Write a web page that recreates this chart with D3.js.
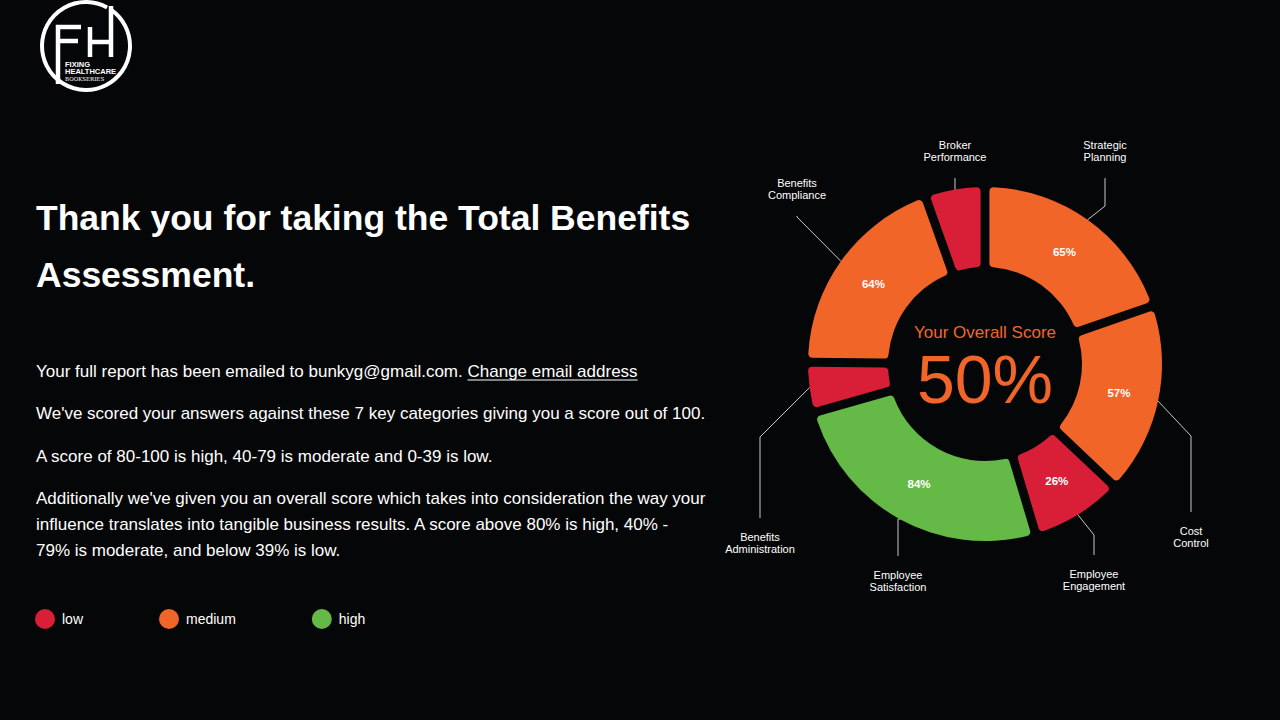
<!DOCTYPE html>
<html lang="en">
<head>
<meta charset="utf-8">
<title>total benefits assessment</title>
<script src="https://cdn.jsdelivr.net/npm/d3@7"></script>
<style>
  body { margin: 0; background: #050608; }
  svg { display: block; font-family: "Liberation Sans", Arial, sans-serif; }
</style>
</head>
<body>
<script>

// categories clockwise from 12 o'clock, with their scores (out of 100)
var categories = ["Strategic Planning", "Cost Control", "Employee Engagement", "Employee Satisfaction",
                  "Benefits Administration", "Benefits Compliance", "Broker Performance"];
var scores = [65, 57, 26, 84, 13, 64, 16];
var overallScore = 50;

var levelNames = ["low", "medium", "high"];
var levelBreaks = [40, 80];

var titleLines = ["Thank you for taking the Total Benefits", "Assessment."];
var bodyLines = [
    "Your full report has been emailed to bunkyg@gmail.com. ",
    "We've scored your answers against these 7 key categories giving you a score out of 100.",
    "A score of 80-100 is high, 40-79 is moderate and 0-39 is low.",
    "Additionally we've given you an overall score which takes into consideration the way your",
    "influence translates into tangible business results. A score above 80% is high, 40% -",
    "79% is moderate, and below 39% is low."
];
var linkText = "Change email address";

var w = 1280, h = 720;
var cx = 985, cy = 364;
var outerR = 177, innerR = 97;

var colour = d3.scaleThreshold()
    .domain(levelBreaks)
    .range(["#d81f37", "#f26529", "#65b946"]);

var data = categories.map(function(c, i) { return {name: c, score: scores[i]}; });

var svg = d3.select("body").append("svg")
    .attr("width", w)
    .attr("height", h);

// ---- logo
var logo = svg.append("g").attr("fill", "none").attr("stroke", "#fff");
logo.append("path")
    .attr("d", d3.arc()({innerRadius: 44, outerRadius: 44, startAngle: 0.62, endAngle: 2 * Math.PI + 0.5}))
    .attr("transform", "translate(86,46)")
    .attr("stroke-width", 4);
logo.append("path")
    .attr("stroke-width", 4.5)
    .attr("d", "M58,84 V27 H81 M58,41 H78 M90,27 V57 M111,6 V57 M90,42 H111");
var logoText = svg.append("g").attr("fill", "#fff").attr("font-weight", "bold");
logoText.append("text").attr("x", 65).attr("y", 67).attr("font-size", 7.5).text("FIXING");
logoText.append("text").attr("x", 65).attr("y", 74).attr("font-size", 7.5).text("HEALTHCARE");
logoText.append("text").attr("x", 65).attr("y", 81).attr("font-size", 5.5)
    .attr("font-family", "DejaVu Serif").attr("font-weight", "normal").text("BOOKSERIES");

// ---- title and copy
svg.selectAll("text.title")
    .data(titleLines)
    .enter()
    .append("text")
    .attr("class", "title")
    .attr("x", 36)
    .attr("y", function(d, i) { return 230 + i * 57; })
    .attr("fill", "#fff")
    .attr("font-size", 35.5)
    .attr("font-weight", "bold")
    .text(function(d) { return d; });

var bodyY = [377, 419, 462, 504, 530, 556];
svg.selectAll("text.body")
    .data(bodyLines)
    .enter()
    .append("text")
    .attr("class", "body")
    .attr("x", 36)
    .attr("y", function(d, i) { return bodyY[i]; })
    .attr("fill", "#fff")
    .attr("font-size", 17)
    .attr("xml:space", "preserve")
    .text(function(d) { return d; });

var firstLen = svg.select("text.body").node().getComputedTextLength();
var link = svg.append("text")
    .attr("x", 36 + firstLen)
    .attr("y", bodyY[0])
    .attr("fill", "#fff")
    .attr("font-size", 17)
    .text(linkText);
var linkLen = link.node().getComputedTextLength();
svg.append("line")
    .attr("x1", 36 + firstLen).attr("x2", 36 + firstLen + linkLen)
    .attr("y1", bodyY[0] + 3).attr("y2", bodyY[0] + 3)
    .attr("stroke", "#fff").attr("stroke-width", 1);

// ---- legend
var legend = svg.append("g").attr("transform", "translate(45,619)");
var lx = 0;
levelNames.forEach(function(name, i) {
    var item = legend.append("g").attr("transform", "translate(" + lx + ",0)");
    item.append("circle").attr("r", 10).attr("fill", colour.range()[i]);
    var t = item.append("text")
        .attr("x", 17).attr("dy", "0.35em")
        .attr("fill", "#fff").attr("font-size", 14)
        .text(name);
    lx += t.node().getComputedTextLength() + 103;
});

// ---- donut
var pie = d3.pie()
    .sort(null)
    .value(function(d) { return d.score; })
    .padAngle(0.05);

var arc = d3.arc()
    .innerRadius(innerR)
    .outerRadius(outerR)
    .padRadius(outerR)
    .cornerRadius(4);

var rim = d3.arc().innerRadius(outerR).outerRadius(outerR);

var arcs = pie(data);
var ring = svg.append("g").attr("transform", "translate(" + cx + "," + cy + ")");

ring.selectAll("path.slice")
    .data(arcs)
    .enter()
    .append("path")
    .attr("class", "slice")
    .attr("d", arc)
    .attr("fill", function(d) { return colour(d.data.score); });

ring.selectAll("text.pct")
    .data(arcs.filter(function(d) { return d.data.score >= 20; }))
    .enter()
    .append("text")
    .attr("class", "pct")
    .attr("transform", function(d) { return "translate(" + arc.centroid(d) + ")"; })
    .attr("text-anchor", "middle")
    .attr("dy", "0.35em")
    .attr("fill", "#fff")
    .attr("font-size", 11.5)
    .attr("font-weight", "bold")
    .text(function(d) { return d.data.score + "%"; });

// call-out placement: label x offset, elbow y and line end y (relative to centre)
var callouts = {
    "Strategic Planning":      {dx: 120,  elbow: -158, end: -186},
    "Cost Control":            {dx: 206,  elbow: 72,   end: 148},
    "Employee Engagement":     {dx: 109,  elbow: 171,  end: 191},
    "Employee Satisfaction":   {dx: -87,  elbow: null, end: 192},
    "Benefits Administration": {dx: -225, elbow: 73,   end: 154},
    "Benefits Compliance":     {dx: -188, elbow: -147, end: -148},
    "Broker Performance":      {dx: -30,  elbow: null, end: -186}
};

arcs.forEach(function(d) {
    var c = callouts[d.data.name];
    var p = rim.centroid(d);
    var ey = c.elbow === null ? p[1] : c.elbow;
    ring.append("polyline")
        .attr("points", [p, [c.dx, ey], [c.dx, c.end]].join(" "))
        .attr("fill", "none")
        .attr("stroke", "#c8c8c8")
        .attr("stroke-width", 1);

    var words = d.data.name.split(" ");
    var above = c.end < 0;
    ring.append("g")
        .selectAll("text")
        .data(words)
        .enter()
        .append("text")
        .attr("x", c.dx)
        .attr("y", function(t, i) {
            return above ? c.end - 29 + i * 12 : c.end + 23 + i * 12;
        })
        .attr("text-anchor", "middle")
        .attr("fill", "#fff")
        .attr("font-size", 11)
        .text(function(t) { return t; });
});

// overall score in the hole
ring.append("text")
    .attr("y", -26)
    .attr("text-anchor", "middle")
    .attr("fill", "#f26529")
    .attr("font-size", 17)
    .text("Your Overall Score");
ring.append("text")
    .attr("y", 39)
    .attr("text-anchor", "middle")
    .attr("fill", "#f26529")
    .attr("font-size", 68)
    .text(overallScore + "%");

</script>
</body>
</html>
